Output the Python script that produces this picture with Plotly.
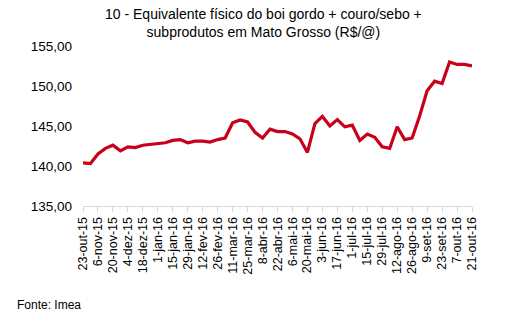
import plotly.graph_objects as go
import pandas as pd

title_text = "10 - Equivalente físico do boi gordo + couro/sebo +<br>subprodutos em Mato Grosso (R$/@)"
source_text = "Fonte: Imea"

dates = pd.date_range("2015-10-23", periods=53, freq="7D")

values = [140.4, 140.3, 141.5, 142.2, 142.6, 141.9, 142.4, 142.3, 142.6, 142.7,
          142.8, 142.9, 143.2, 143.3, 142.9, 143.1, 143.1, 143.0, 143.3, 143.5,
          145.4, 145.75, 145.5, 144.2, 143.5, 144.6, 144.3, 144.3, 144.0, 143.4,
          141.7, 145.3, 146.2, 145.0, 145.8, 144.9, 145.1, 143.2, 144.0, 143.6,
          142.4, 142.2, 144.9, 143.3, 143.5, 146.25, 149.4, 150.6, 150.3, 153.0,
          152.7, 152.7, 152.5]

tick_labels = ["23-out-15", "6-nov-15", "20-nov-15", "4-dez-15", "18-dez-15",
               "1-jan-16", "15-jan-16", "29-jan-16", "12-fev-16", "26-fev-16",
               "11-mar-16", "25-mar-16", "8-abr-16", "22-abr-16", "6-mai-16",
               "20-mai-16", "3-jun-16", "17-jun-16", "1-jul-16", "15-jul-16",
               "29-jul-16", "12-ago-16", "26-ago-16", "9-set-16", "23-set-16",
               "7-out-16", "21-out-16"]
tick_dates = list(dates[::2])

y_ticks = [135, 140, 145, 150, 155]

fig = go.Figure()
fig.add_trace(go.Scatter(x=dates, y=values, mode="lines",
                         line=dict(color="#C8001A", width=3.2), hoverinfo="skip"))

fig.update_layout(
    width=507, height=329,
    margin=dict(l=82.5, r=34.5, t=46, b=123),
    paper_bgcolor="white", plot_bgcolor="white",
    separators=",.",
    showlegend=False,
    font=dict(family="Liberation Sans, Arial, sans-serif", color="#000000"),
)
fig.update_xaxes(
    type="date",
    range=[dates[0], dates[-1]],
    tickvals=tick_dates, ticktext=tick_labels,
    tickangle=-90, tickfont=dict(size=12.5, color="#000000"),
    showgrid=False, showline=True, linecolor="#D9D9D9", linewidth=1,
    ticks="outside", ticklen=5, tickcolor="#D9D9D9", zeroline=False,
)
fig.update_yaxes(
    range=[135, 155], tickvals=y_ticks, tickformat=".2f",
    tickfont=dict(size=13.5, color="#000000"),
    showgrid=False, showline=False, zeroline=False, ticks="", ticklabelstandoff=10,
)
fig.add_annotation(text=title_text, xref="paper", yref="paper", x=0.465, y=1.145,
                   xanchor="center", yanchor="middle", showarrow=False,
                   font=dict(size=14, color="#000000"))
fig.add_annotation(text=source_text, xref="paper", yref="paper", x=-0.175, y=-0.62,
                   xanchor="left", yanchor="middle", showarrow=False,
                   font=dict(size=12, color="#000000"))

fig.write_html("out.html")
